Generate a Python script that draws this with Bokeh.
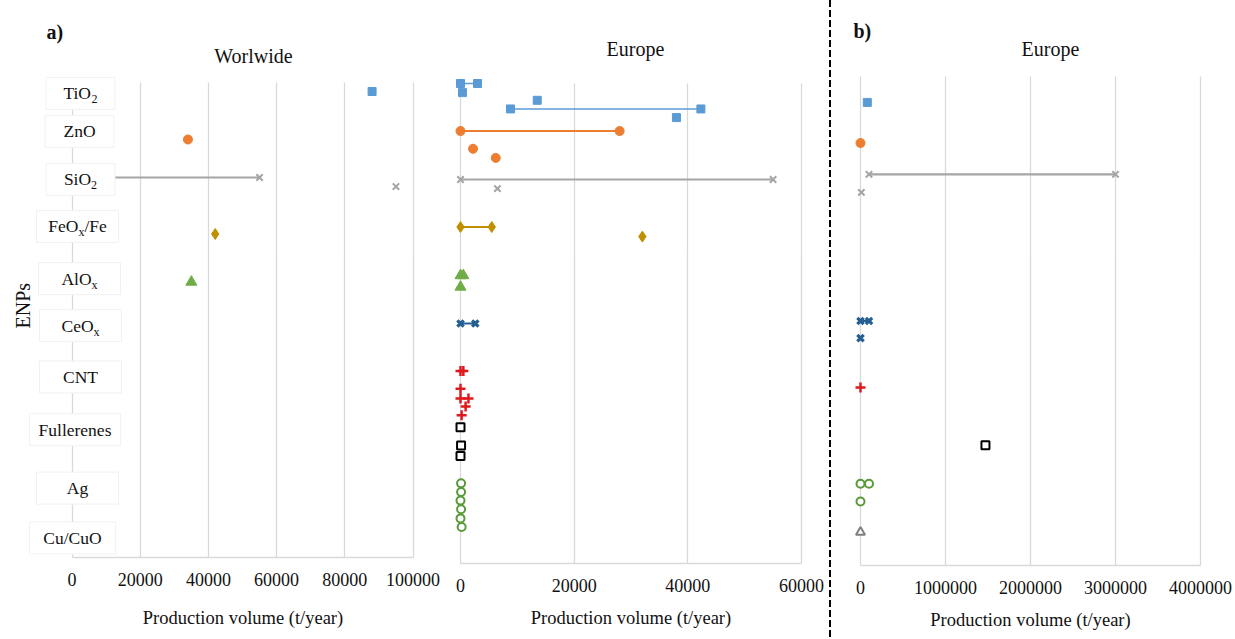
import math

from bokeh.embed import file_html
from bokeh.layouts import row
from bokeh.models import (ColumnDataSource, Div, FixedTicker, Label,
                          NumeralTickFormatter, Range1d)
from bokeh.plotting import figure
from bokeh.resources import INLINE

# ---------------------------------------------------------------- data
# Engineered nanoparticles, top to bottom
enps = ["TiO2", "ZnO", "SiO2", "FeOx/Fe", "AlOx", "CeOx", "CNT",
        "Fullerenes", "Ag", "Cu/CuO"]

# a) Worldwide production, single estimates (t/year) and their row slot (0-100)
ww_enp = ["TiO2", "ZnO", "SiO2", "FeOx/Fe", "AlOx"]
ww_vol = [88000, 34000, 95000, 42000, 35000]
ww_row = [98.1, 88.0, 78.1, 68.1, 58.0]
# a) Worldwide production, reported ranges
ww_rng_enp = ["SiO2"]
ww_rng_lo = [0]
ww_rng_hi = [55000]
ww_rng_row = [80.0]

# a) Europe, single estimates
eu_enp = ["TiO2", "TiO2", "TiO2", "ZnO", "ZnO", "SiO2", "FeOx/Fe", "AlOx",
          "CNT", "CNT", "CNT", "Fullerenes", "Fullerenes", "Fullerenes",
          "Ag", "Ag", "Ag", "Ag", "Ag", "Ag"]
eu_vol = [350, 13500, 38000, 2200, 6200, 6500, 32000, 0,
          0, 900, 200, 0, 100, 0,
          100, 100, 0, 100, 0, 200]
eu_row = [98.1, 96.5, 92.9, 86.4, 84.5, 78.1, 68.1, 57.6,
          36.4, 32.7, 30.9, 28.4, 24.6, 22.4,
          16.7, 14.9, 13.1, 11.3, 9.4, 7.6]
# a) Europe, reported ranges
eu_rng_enp = ["TiO2", "TiO2", "ZnO", "SiO2", "FeOx/Fe", "AlOx", "CeOx", "CNT", "CNT"]
eu_rng_lo = [0, 8800, 0, 0, 0, 0, 0, 0, 0]
eu_rng_hi = [3000, 42300, 28000, 55000, 5500, 500, 2600, 500, 1400]
eu_rng_row = [100.0, 94.7, 90.1, 80.0, 70.1, 60.0, 50.0, 40.1, 34.4]

# b) Europe, single estimates
eub_enp = ["TiO2", "ZnO", "SiO2", "CeOx", "CNT", "Fullerenes", "Ag", "Cu/CuO"]
eub_vol = [80000, 0, 10000, 0, 0, 1470000, 0, 0]
eub_row = [94.7, 86.4, 76.3, 46.5, 36.4, 24.6, 13.1, 6.8]
# b) Europe, reported ranges
eub_rng_enp = ["SiO2", "CeOx", "Ag"]
eub_rng_lo = [100000, 0, 0]
eub_rng_hi = [3000000, 100000, 100000]
eub_rng_row = [80.0, 50.0, 16.7]

# x-axis ticks of the three panels
ww_ticks = [0, 20000, 40000, 60000, 80000, 100000]
eu_ticks = [0, 20000, 40000, 60000]
eub_ticks = [0, 1000000, 2000000, 3000000, 4000000]

# ---------------------------------------------------------------- styling
SERIF = "Liberation Serif"
GRID = "#d9d9d9"
TEXT = "#111111"
ROW_TOP = 100  # top of the row scale

STYLE = {
    "TiO2":       dict(color="#5B9BD5", marker="square",   size=8,  hollow=False, mlw=1,   llw=1.6),
    "ZnO":        dict(color="#ED7D31", marker="circle",   size=9,  hollow=False, mlw=1,   llw=2.2),
    "SiO2":       dict(color="#A5A5A5", marker="x",        size=9,  hollow=False, mlw=2,   llw=2.2),
    "FeOx/Fe":    dict(color="#BF9000", marker="diamond",  size=11, hollow=False, mlw=1,   llw=2.0),
    "AlOx":       dict(color="#70AD47", marker="triangle", size=11, hollow=False, mlw=1,   llw=2.0),
    "CeOx":       dict(color="#255E91", marker="x",        size=9,  hollow=False, mlw=3.2, llw=1.8),
    "CNT":        dict(color="#E0191C", marker="cross",    size=10, hollow=False, mlw=2.5, llw=1.8),
    "Fullerenes": dict(color="#000000", marker="square",   size=8,  hollow=True,  mlw=2,   llw=1.8),
    "Ag":         dict(color="#5A9A3A", marker="circle",   size=8,  hollow=True,  mlw=2,   llw=1.8),
    "Cu/CuO":     dict(color="#7F7F7F", marker="triangle", size=9,  hollow=True,  mlw=2,   llw=1.8),
}


def make_panel(width, height, xmax, ticks, x0_px, xmax_px, y0_px, ytop_px,
               label_standoff):
    """Panel whose plotting frame fills the canvas; the data area runs from
    x0_px..xmax_px horizontally and y0_px (row 0) .. ytop_px (row 100)."""
    kx = (xmax_px - x0_px) / xmax
    ky = (y0_px - ytop_px) / ROW_TOP
    x_range = Range1d(-x0_px / kx, (width - x0_px) / kx)
    y_range = Range1d(-(height - y0_px) / ky, y0_px / ky)
    p = figure(width=width, height=height, x_range=x_range, y_range=y_range,
               title=None, toolbar_location=None, output_backend="svg",
               y_axis_location=None, min_border=0)
    p.outline_line_color = None
    p.background_fill_color = "white"
    p.border_fill_color = "white"
    p.ygrid.visible = False

    grid = p.xgrid[0]
    grid.ticker = FixedTicker(ticks=ticks)
    grid.grid_line_color = GRID
    grid.grid_line_width = 1.3
    try:
        grid.cross_bounds = (0, ROW_TOP)
    except (AttributeError, ValueError):
        grid.visible = False
        p.segment(x0=ticks, y0=[0] * len(ticks), x1=ticks,
                  y1=[ROW_TOP] * len(ticks), line_color=GRID, line_width=1.3)

    ax = p.xaxis[0]
    ax.fixed_location = 0
    ax.bounds = (0, xmax)
    ax.ticker = FixedTicker(ticks=ticks)
    ax.formatter = NumeralTickFormatter(format="0")
    ax.axis_line_color = GRID
    ax.axis_line_width = 1.5
    ax.major_tick_line_color = None
    ax.minor_tick_line_color = None
    ax.major_label_text_font = SERIF
    ax.major_label_text_font_size = "18px"
    ax.major_label_text_color = TEXT
    ax.major_label_standoff = 9
    ax.axis_label = "Production volume (t/year)"
    ax.axis_label_text_font = SERIF
    ax.axis_label_text_font_size = "18.5px"
    ax.axis_label_text_font_style = "normal"
    ax.axis_label_text_color = TEXT
    ax.axis_label_standoff = label_standoff
    return p


def draw_series(p, enp_list, vol, rows, rng_enp, lo, hi, rrow):
    # range bars first, markers on top
    for name in enps:
        st = STYLE[name]
        idx = [i for i, e in enumerate(rng_enp) if e == name]
        if idx:
            src = ColumnDataSource(dict(x0=[lo[i] for i in idx],
                                        x1=[hi[i] for i in idx],
                                        y=[rrow[i] for i in idx]))
            p.segment(x0="x0", y0="y", x1="x1", y1="y", source=src,
                      line_color=st["color"], line_width=st["llw"])
    for name in enps:
        st = STYLE[name]
        xs, ys = [], []
        for i, e in enumerate(rng_enp):
            if e == name:
                xs += [lo[i], hi[i]]
                ys += [rrow[i], rrow[i]]
        for i, e in enumerate(enp_list):
            if e == name:
                xs.append(vol[i])
                ys.append(rows[i])
        if not xs:
            continue
        fill = "white" if st["hollow"] else st["color"]
        p.scatter(x=xs, y=ys, marker=st["marker"], size=st["size"],
                  fill_color=fill, line_color=st["color"],
                  line_width=st["mlw"])


def text_label(p, x, y, text, dx=0, dy=0, size="20px", style="normal",
               align="center", baseline="middle", angle=0.0, **kw):
    lab = Label(x=x, y=y, x_offset=dx, y_offset=dy, text=text,
                text_font=SERIF, text_font_size=size, text_font_style=style,
                text_color=TEXT, text_align=align, text_baseline=baseline,
                angle=angle, **kw)
    p.add_layout(lab)
    return lab


# ---------------------------------------------------------------- panels
p1 = make_panel(440, 639, 100000, ww_ticks, x0_px=71.5, xmax_px=412.5,
                y0_px=557, ytop_px=82, label_standoff=19)
p2 = make_panel(389, 639, 60000, eu_ticks, x0_px=20, xmax_px=361,
                y0_px=563, ytop_px=83, label_standoff=13)
p3 = make_panel(404, 639, 4000000, eub_ticks, x0_px=29, xmax_px=369,
                y0_px=565, ytop_px=76, label_standoff=13)

draw_series(p1, ww_enp, ww_vol, ww_row, ww_rng_enp, ww_rng_lo, ww_rng_hi, ww_rng_row)
draw_series(p2, eu_enp, eu_vol, eu_row, eu_rng_enp, eu_rng_lo, eu_rng_hi, eu_rng_row)
draw_series(p3, eub_enp, eub_vol, eub_row, eub_rng_enp, eub_rng_lo, eub_rng_hi, eub_rng_row)

# ---------------------------------------------------------------- category labels
# label text split into (text, is_subscript) pieces
LABEL_PARTS = {
    "TiO2": [("TiO", False), ("2", True)],
    "ZnO": [("ZnO", False)],
    "SiO2": [("SiO", False), ("2", True)],
    "FeOx/Fe": [("FeO", False), ("x", True), ("/Fe", False)],
    "AlOx": [("AlO", False), ("x", True)],
    "CeOx": [("CeO", False), ("x", True)],
    "CNT": [("CNT", False)],
    "Fullerenes": [("Fullerenes", False)],
    "Ag": [("Ag", False)],
    "Cu/CuO": [("Cu/CuO", False)],
}
label_row = [97.7, 89.7, 79.6, 69.7, 58.7, 48.8, 38.0, 26.9, 14.6, 4.1]
label_cx = [8.5, 7.5, 8.5, 5.5, 7.5, 8.5, 8.5, 3.0, 5.5, 0.5]   # px right of x=0
label_box_w = [68, 67, 68, 84, 80, 80, 84, 90, 80, 87]         # px
BOX_PAD = 6

# advance widths (em) of the serif face, used to butt subscripts against text
ADV = {"T": .611, "i": .278, "O": .722, "Z": .611, "n": .5, "S": .556,
       "F": .556, "e": .444, "/": .278, "A": .722, "l": .278, "C": .667,
       "N": .722, "u": .5, "r": .333, "s": .389, "g": .5, "x": .5, "2": .5}
BASE_PX, SUB_PX = 17.5, 12.0
NBSP_PX = 0.25 * BASE_PX


def width_px(s, px):
    return sum(ADV.get(c, .5) for c in s) * px


for name, yrow, cx, bw in zip(enps, label_row, label_cx, label_box_w):
    parts = LABEL_PARTS[name]
    total = sum(width_px(t, SUB_PX if sub else BASE_PX) for t, sub in parts)
    # white text box behind the label
    box = text_label(p1, 0, yrow, "\u00a0" * max(1, round((bw - 2 * BOX_PAD) / NBSP_PX)),
                     dx=cx, size=f"{BASE_PX}px")
    box.background_fill_color = "white"
    box.border_line_color = "#f1f1f1"
    box.padding = BOX_PAD
    xpos = cx - total / 2
    for t, sub in parts:
        if sub:
            text_label(p1, 0, yrow, t, dx=xpos, dy=-6, size=f"{SUB_PX}px",
                       align="left")
        else:
            text_label(p1, 0, yrow, t, dx=xpos, size=f"{BASE_PX}px",
                       align="left")
        xpos += width_px(t, SUB_PX if sub else BASE_PX)

# y-axis title
text_label(p1, 0, 53, "ENPs", dx=-49.5, size="20px", angle=math.pi / 2)

# panel titles and panel letters
text_label(p1, 0, ROW_TOP, "Worlwide", dx=181.5, dy=27, size="20px")
text_label(p1, 0, ROW_TOP, "a)", dx=-25.5, dy=51, size="20px", style="bold",
           align="left")
text_label(p2, 0, ROW_TOP, "Europe", dx=175, dy=35, size="20px")
text_label(p3, 0, ROW_TOP, "Europe", dx=190, dy=28, size="20px")
text_label(p3, 0, ROW_TOP, "b)", dx=-7, dy=46, size="20px", style="bold",
           align="left")

# dashed divider between part a) and part b)
sep = Div(width=2, height=639, margin=(0, 0, 0, 0),
          styles={"background": "repeating-linear-gradient(to bottom, #000 0px, #000 7px, transparent 7px, transparent 10px)"})

layout = row(p1, p2, sep, p3)

open("out.html", "w").write(file_html(layout, INLINE))
